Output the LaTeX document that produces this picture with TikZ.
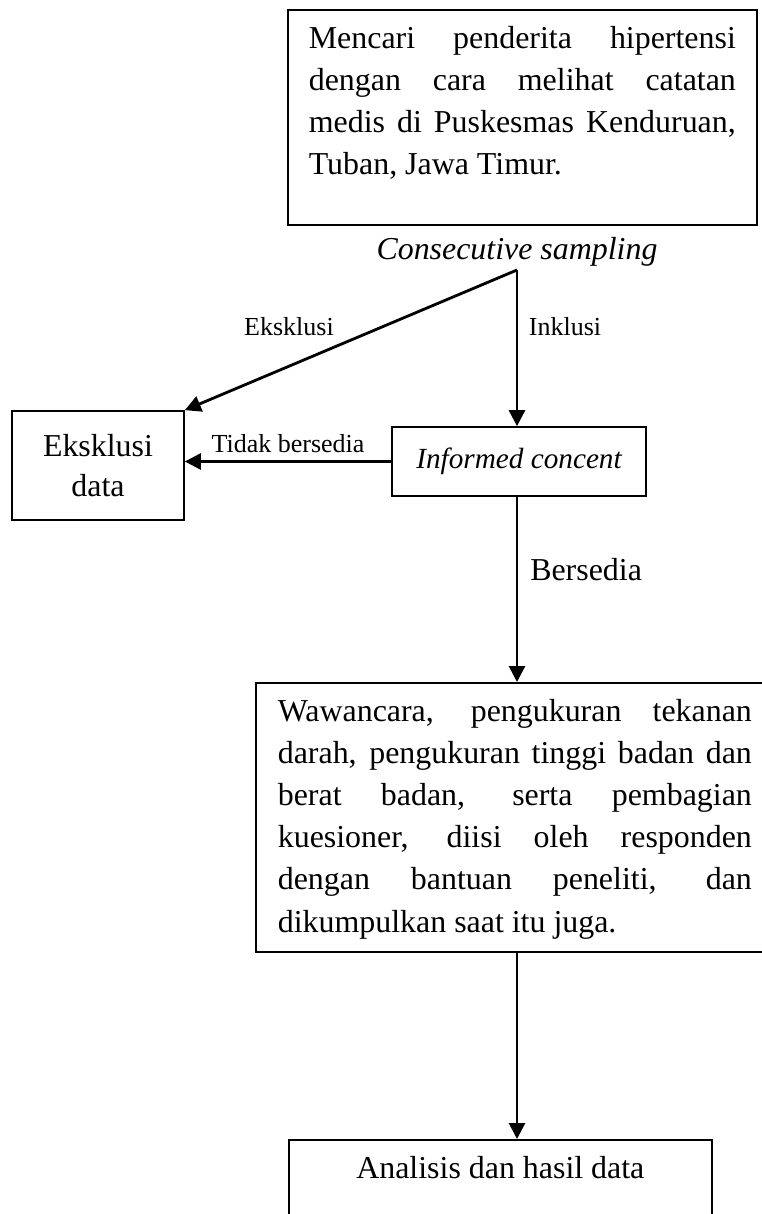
\documentclass[tikz,border=0pt]{standalone}
\usepackage{fontspec}
\setmainfont{Liberation Serif}
\usetikzlibrary{calc, arrows.meta, positioning}

\begin{document}
\begin{tikzpicture}[
  box/.style={draw, line width=1.2pt, inner ysep=0pt},
  txt/.style={font=\fontsize{22.7pt}{29.9pt}\selectfont},
  lbl/.style={font=\fontsize{18.5pt}{22pt}\selectfont, inner sep=0pt},
  arr/.style={line width=2pt, -{Triangle[length=0.4cm, width=0.4cm]}}
]
\useasboundingbox (0,0) rectangle (19.025,-30.35); % page size

\node[box, txt, anchor=north west, inner xsep=0.525cm, text width=10.675cm, align=justify] (cari) at (7.175,-0.225)
{\rule{0pt}{0.975cm}Mencari penderita hipertensi\linebreak dengan cara melihat catatan\linebreak medis di Puskesmas Kenduruan,\linebreak Tuban, Jawa Timur.\rule[-1.25cm]{0pt}{1.25cm}};
\node[txt, anchor=base, inner sep=0pt] (sampling) at (12.925,-6.5) {\itshape Consecutive sampling};
\coordinate (fork) at (12.925,-6.75);

\node[box, minimum width=4.3cm, minimum height=2.725cm, align=center, font=\fontsize{22.7pt}{28.4pt}\selectfont] (eks) at (2.45,-11.6375) {Eksklusi\\data};
\node[box, minimum width=6.35cm, minimum height=1.725cm, font=\fontsize{20.8pt}{25pt}\selectfont\itshape] (informed) at (12.975,-11.5375) {Informed concent};

\node[box, txt, anchor=north west, inner xsep=0.55cm, text width=11.85cm, align=justify] (wawancara) at (6.375,-17.05)
{\rule{0pt}{0.975cm}Wawancara, pengukuran tekanan\linebreak darah, pengukuran tinggi badan dan\linebreak berat badan, serta pembagian\linebreak kuesioner, diisi oleh responden\linebreak dengan bantuan peneliti, dan\linebreak dikumpulkan saat itu juga.\rule[-0.5cm]{0pt}{0.5cm}};
\node[box, txt, anchor=north west, inner xsep=0.3cm, text width=9.975cm, align=flush center] (analisis) at (7.2,-28.475)
{\rule{0pt}{0.975cm}Analisis dan hasil data\rule[-2cm]{0pt}{2cm}};

\draw[arr] (fork) -- (eks.north east);
\draw[arr] (fork) -- (fork |- informed.north);
\draw[arr] (informed.west) -- (informed.west -| eks.east) node[lbl, midway, above=0.175cm] (tidak) {Tidak bersedia};
\draw[arr] (informed.south -| fork) -- (fork |- wawancara.north);
\draw[arr] (wawancara.south -| fork) -- (fork |- analisis.north);

\node[lbl, anchor=base] (eksklusi) at (7.225,-8.4) {Eksklusi};
\node[lbl, anchor=base] (inklusi) at (14.125,-8.4) {Inklusi};
\node[txt, anchor=base west, inner sep=0pt] (bersedia) at (13.25,-14.5) {Bersedia};

\end{tikzpicture}
\end{document}
